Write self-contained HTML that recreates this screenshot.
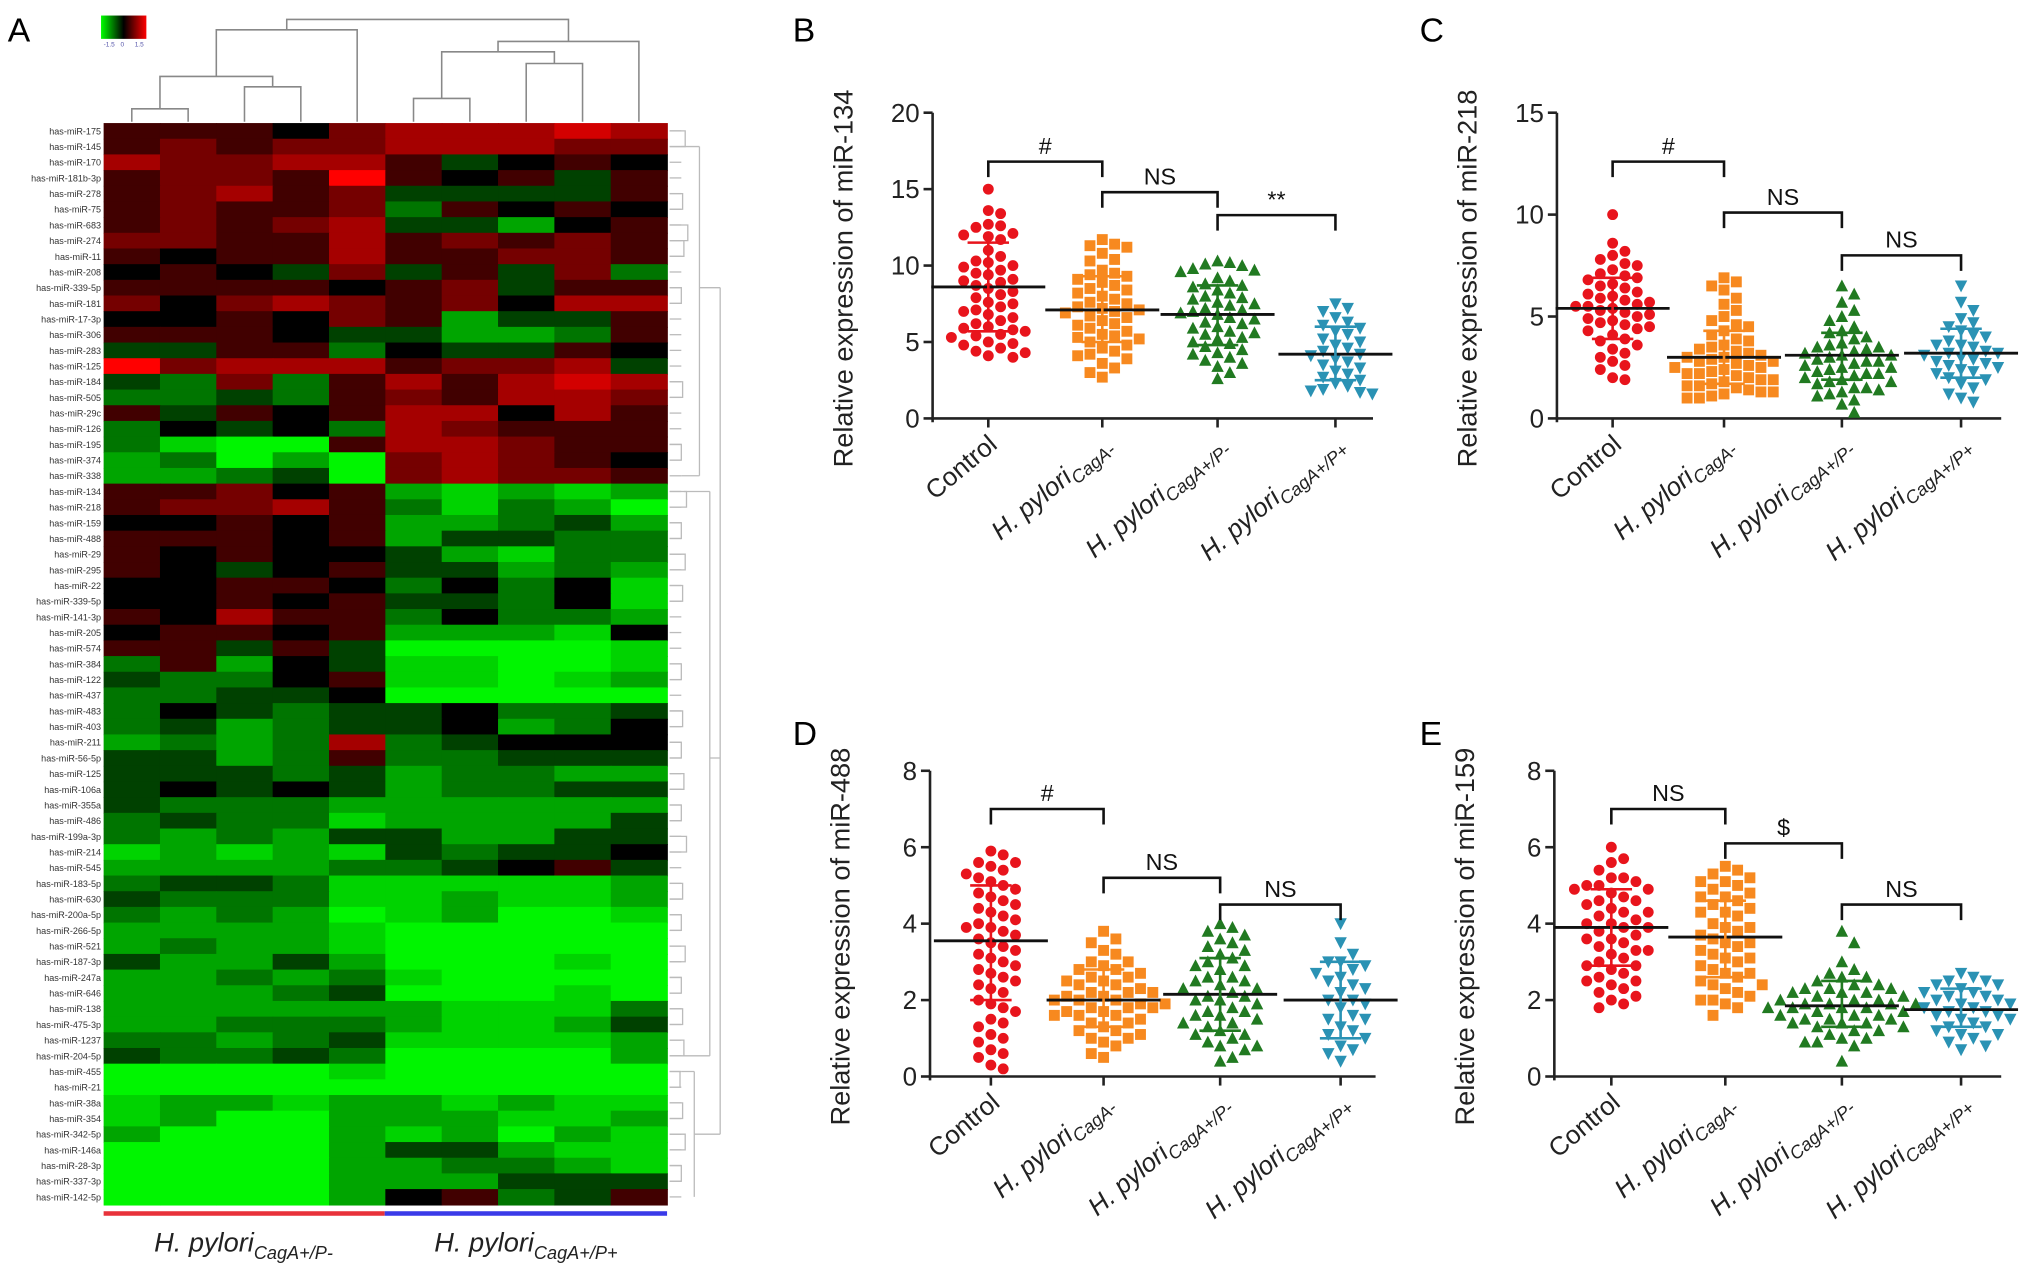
<!DOCTYPE html>
<html><head><meta charset="utf-8">
<style>
html,body{margin:0;padding:0;background:#fff}
svg{display:block}
text{font-family:"Liberation Sans",Arial,sans-serif}
</style></head>
<body>
<svg id="fig" width="2031" height="1276" viewBox="0 0 1568 985" preserveAspectRatio="none" xmlns="http://www.w3.org/2000/svg">
<rect x="0" y="0" width="1568" height="985" fill="#fff"/>
<defs>
<linearGradient id="cbar" x1="0" x2="1" y1="0" y2="0">
<stop offset="0" stop-color="#00ff00"/><stop offset="0.5" stop-color="#000"/><stop offset="1" stop-color="#ff0000"/>
</linearGradient>
</defs>
<g id="panelA">
<text x="6" y="32" font-size="26">A</text>
<rect x="78" y="12" width="35" height="18" fill="url(#cbar)"/>
<text x="80" y="36" font-size="5" fill="#55a">-1.5</text>
<text x="93" y="36" font-size="5" fill="#55a">0</text>
<text x="104" y="36" font-size="5" fill="#55a">1.5</text>
<g id="hm"></g>
<g id="hmlabels"></g>
<g id="coldendro" stroke="#888" stroke-width="1.2" fill="none"></g>
<g id="rowdendro" stroke="#bbb" stroke-width="1" fill="none"></g>
<rect x="80" y="935" width="217" height="3.5" fill="#e8323a"/>
<rect x="297" y="935" width="218" height="3.5" fill="#3a3ae8"/>
<text x="188" y="966" font-size="21" text-anchor="middle" font-style="italic" fill="#222">H. pylori<tspan font-size="14" dy="6">CagA+/P-</tspan></text>
<text x="406" y="966" font-size="21" text-anchor="middle" font-style="italic" fill="#222">H. pylori<tspan font-size="14" dy="6">CagA+/P+</tspan></text>
</g>
<g id="charts"></g>
</svg>
<script>
// ---------------- Heatmap data ----------------
const rowNames = ["has-miR-175","has-miR-145","has-miR-170","has-miR-181b-3p","has-miR-278","has-miR-75","has-miR-683","has-miR-274","has-miR-11","has-miR-208","has-miR-339-5p","has-miR-181","has-miR-17-3p","has-miR-306","has-miR-283","has-miR-125","has-miR-184","has-miR-505","has-miR-29c","has-miR-126","has-miR-195","has-miR-374","has-miR-338","has-miR-134","has-miR-218","has-miR-159","has-miR-488","has-miR-29","has-miR-295","has-miR-22","has-miR-339-5p","has-miR-141-3p","has-miR-205","has-miR-574","has-miR-384","has-miR-122","has-miR-437","has-miR-483","has-miR-403","has-miR-211","has-miR-56-5p","has-miR-125","has-miR-106a","has-miR-355a","has-miR-486","has-miR-199a-3p","has-miR-214","has-miR-545","has-miR-183-5p","has-miR-630","has-miR-200a-5p","has-miR-266-5p","has-miR-521","has-miR-187-3p","has-miR-247a","has-miR-646","has-miR-138","has-miR-475-3p","has-miR-1237","has-miR-204-5p","has-miR-455","has-miR-21","has-miR-38a","has-miR-354","has-miR-342-5p","has-miR-146a","has-miR-28-3p","has-miR-337-3p","has-miR-142-5p"];
// codes: 0 = 0, 1..5 = up (red), a..e = down (green)
const rowCodes = ["1110233343","1212233322","322331a010","12215101a1","12312aaaa1","12112b1010","12123aac01","2211312121","1011311221","010a2a1a2b","1111012a11","2023212033","001021caa1","1110aaccb1","aa11b0aa10","523331223a","ab2b131343","bbab121332","1a10133031","b0a0b32111","bdee133211","cbece23210","ccbae23221","11201cdcdc","12231bdbce","00101ccbac","11101caabb","10100acdbb","10a01aacbc","00110b0b0d","00101aab0d","10311b0bbc","01101cccd0","11a1aeeeed","b1c0addeed","abb01ddedc","bbaa0eeeee","b0abaa0bba","bacbaa0cb0","cbcb3ba000","aacb1bbaaa","aaabacbbcc","a0a0acbbaa","abbbcccccc","babbdcccca","bcbcaaccaa","dcdcdabaa0","ccccbba01a","baabdddddc","abbbddcddc","bcbcedceed","ccccdeeeee","cbccdeeeee","accaceeede","ccbcbdeeee","cccbaeeede","ccccccdddb","ccbbbcddca","bbcbaddddc","abbabeeeec","eeeedeeeee","eeeeeeeeee","dccdccdcdd","dceeccc ddc".replace(" ",""),"ceeecdcecd","eeeecaacdd","eeeeccbbcd","eeeecccaa","eeeec01ba1"].map(s=>s.padEnd(10,s[s.length-1]));
const codeValues = {"0":0,"1":0.3,"2":0.6,"3":0.9,"4":1.2,"5":1.5,"a":-0.3,"b":-0.6,"c":-0.9,"d":-1.2,"e":-1.5};

const NS="http://www.w3.org/2000/svg";
function el(tag, attrs, parent){const e=document.createElementNS(NS,tag);for(const k in attrs)e.setAttribute(k,attrs[k]);if(parent)parent.appendChild(e);return e;}
function colorFor(v){const t=Math.min(1,Math.abs(v)/1.5);const c=Math.round(255*Math.pow(t,0.85));return v>=0?`rgb(${c},0,0)`:`rgb(0,${Math.min(245,c)},0)`;}

const HX0=80,HX1=515,HY0=95,HY1=930;
const nR=rowNames.length, nC=10;
const cw=(HX1-HX0)/nC, rh=(HY1-HY0)/nR;
const hm=document.getElementById('hm'), hl=document.getElementById('hmlabels');
rowCodes.forEach((row,r)=>{
  for(let c=0;c<nC;c++){
    const v=codeValues[row[c]]??0;
    const cell=el('rect',{x:HX0+c*cw,y:HY0+r*rh,width:cw+0.6,height:rh+0.6,fill:colorFor(v)},hm);
    
    
  }
  const t=el('text',{x:HX0-2,y:HY0+r*rh+rh*0.72,'font-size':7,'text-anchor':'end',fill:'#333'},hl);
  t.textContent=rowNames[r];
  
  
});
// column dendrogram
const cx=i=>HX0+cw*(i+0.5);
const cd=document.getElementById('coldendro');
function br(x1,x2,y,y1,y2){el('path',{d:`M${x1} ${y1} V${y} H${x2} V${y2}`},cd);}
br(cx(0),cx(1),84,94,94); br(cx(2),cx(3),67,94,94);
const m01=(cx(0)+cx(1))/2,m23=(cx(2)+cx(3))/2; br(m01,m23,59,84,67);
const mL=(m01+m23)/2; br(mL,cx(4),23,59,94);
br(cx(5),cx(6),76,94,94); br(cx(7),cx(8),49,94,94);
const m56=(cx(5)+cx(6))/2,m78=(cx(7)+cx(8))/2; br(m56,m78,40,76,49);
const mR1=(m56+m78)/2; br(mR1,cx(9),32,40,94);
const mA=(mL+cx(4))/2,mB=(mR1+cx(9))/2; br(mA,mB,15,23,32);
// row dendrogram (approximate structure)
const rd=document.getElementById('rowdendro');
const ry=i=>HY0+rh*(i+0.5);
const pairs=[[0,1,8],[4,5,6],[6,7,10],[7,8,7],[10,11,5],[16,17,6],[20,21,5],[23,24,9],[25,26,5],[27,28,8],[29,30,6],[34,35,5],[37,38,6],[39,40,5],[41,42,7],[43,44,5],[45,46,9],[48,49,6],[50,51,5],[52,53,8],[54,55,5],[56,57,6],[58,59,7],[60,61,4],[62,63,6],[64,65,8],[66,67,5]];
rowNames.forEach((n,i)=>{el('path',{d:`M517 ${ry(i)} H526`},rd);});
pairs.forEach(p=>{const x=517+p[2]+4;el('path',{d:`M517 ${ry(p[0])} H${x} V${ry(p[1])} H517`},rd);});
el('path',{d:`M540 ${ry(1)} V${ry(22)} M548 ${ry(23)} V${ry(59)} M536 ${ry(60)} V${ry(68)} M556 ${ry(10)} V${ry(64)} M526 ${ry(1)} H540 M526 ${ry(22)} H540 M528 ${ry(23)} H548 M528 ${ry(59)} H548 M526 ${ry(60)} H536 M540 ${ry(10)} H556 M548 ${ry(40)} H556 M536 ${ry(64)} H556`},rd);

// ---------------- Scatter data ----------------
const groups = ["Control","CagA-","CagA+/P-","CagA+/P+"];
// Panel B: miR-134
const b_control=[15.0,13.6,13.4,12.7,12.6,12.5,12.1,12.0,11.9,11.7,11.0,10.6,10.3,10.2,10.0,9.9,9.7,9.5,9.4,9.1,9.0,8.9,8.7,8.5,8.3,8.1,7.9,7.6,7.5,7.3,7.1,7.0,6.8,6.6,6.4,6.2,6.0,5.9,5.8,5.7,5.5,5.4,5.3,5.0,4.9,4.8,4.6,4.4,4.3,4.1,4.0];
const b_cagAneg=[11.7,11.4,11.3,11.2,10.8,10.4,10.3,9.7,9.5,9.4,9.3,9.1,8.9,8.7,8.5,8.4,8.2,8.0,7.8,7.6,7.5,7.3,7.2,7.1,7.0,6.9,6.7,6.6,6.4,6.2,6.1,5.9,5.7,5.5,5.4,5.3,5.2,5.0,4.8,4.6,4.4,4.2,4.1,3.9,3.6,3.3,3.0,2.7];
const b_pneg=[10.3,10.2,10.1,10.0,9.8,9.7,9.6,9.2,9.0,8.8,8.7,8.6,8.4,8.2,8.0,7.9,7.8,7.6,7.5,7.4,7.2,7.1,7.0,6.9,6.8,6.6,6.5,6.3,6.2,6.0,5.9,5.7,5.6,5.5,5.3,5.2,5.0,4.9,4.7,4.5,4.3,4.2,4.0,3.8,3.6,3.4,3.0,2.6];
const b_ppos=[7.5,7.2,7.0,6.6,6.3,6.1,5.9,5.7,5.5,5.2,5.0,4.8,4.6,4.4,4.2,4.1,3.9,3.7,3.5,3.3,3.1,2.9,2.7,2.5,2.3,2.1,1.9,1.8,1.7,1.6];
// Panel C: miR-218
const c_control=[10.0,8.6,8.2,8.0,7.8,7.6,7.5,7.3,7.1,6.9,6.8,6.6,6.4,6.2,6.1,6.0,5.9,5.8,5.6,5.5,5.4,5.3,5.2,5.0,4.9,4.8,4.7,4.5,4.4,4.3,4.1,3.9,3.8,3.6,3.4,3.2,3.0,2.8,2.6,2.4,2.0,1.9,5.7,5.5,5.1,4.6,6.5,7.0];
const c_cagAneg=[6.9,6.7,6.5,6.3,5.9,5.6,5.3,5.0,4.8,4.6,4.5,4.3,4.1,3.9,3.8,3.6,3.5,3.3,3.2,3.1,3.0,2.9,2.8,2.7,2.6,2.5,2.4,2.3,2.2,2.1,2.0,1.9,1.8,1.7,1.6,1.5,1.4,1.3,1.2,1.1,1.0,1.0,3.4,3.0,2.8,2.5,2.2,1.9,1.6,1.3];
const c_pneg=[6.5,6.1,5.7,5.3,5.0,4.8,4.5,4.3,4.2,4.0,3.9,3.7,3.6,3.5,3.4,3.3,3.2,3.1,3.0,2.9,2.8,2.7,2.6,2.5,2.4,2.3,2.2,2.1,2.0,1.9,1.8,1.7,1.5,1.4,1.3,1.2,1.1,0.9,0.7,0.3,3.5,3.1,2.8,2.5,2.2,1.8,1.5];
const c_ppos=[6.5,5.7,5.3,4.9,4.7,4.5,4.3,4.1,4.0,3.8,3.6,3.5,3.3,3.2,3.1,3.0,2.8,2.7,2.6,2.4,2.3,2.2,2.0,1.9,1.7,1.5,1.2,1.0,0.8,3.6,3.2,2.9,2.5];
// Panel D: miR-488
const d_control=[5.9,5.8,5.6,5.5,5.4,5.3,5.1,5.0,4.9,4.7,4.6,4.4,4.3,4.1,4.0,3.9,3.8,3.7,3.5,3.4,3.3,3.1,3.0,2.8,2.7,2.5,2.4,2.2,2.0,1.9,1.7,1.5,1.3,1.1,0.9,0.7,0.5,0.3,0.2,5.6,5.2,4.8,4.5,4.2,3.9,3.6,3.2,2.9,2.6,2.3,1.8,1.4,1.0,0.6];
const d_cagAneg=[3.8,3.6,3.5,3.3,3.2,3.0,2.9,2.8,2.7,2.6,2.5,2.4,2.3,2.2,2.2,2.1,2.0,2.0,1.9,1.9,1.8,1.8,1.7,1.6,1.6,1.5,1.4,1.3,1.2,1.1,1.0,0.9,0.8,0.6,0.5,3.0,2.8,2.6,2.4,2.2,2.0,1.8,1.6,1.4,1.2,1.0,2.5,2.1,1.7];
const d_pneg=[4.0,3.9,3.7,3.6,3.4,3.3,3.1,3.0,2.9,2.8,2.6,2.5,2.4,2.3,2.2,2.1,2.0,1.9,1.8,1.7,1.6,1.5,1.4,1.3,1.2,1.1,1.0,0.9,0.8,0.7,0.5,0.4,3.8,3.5,3.2,2.9,2.6,2.3,2.0,1.7,1.4,1.1,0.8,2.5,2.1,1.6];
const d_ppos=[4.0,3.5,3.2,3.0,2.9,2.7,2.6,2.5,2.3,2.2,2.0,1.9,1.8,1.6,1.5,1.3,1.2,1.0,0.8,0.6,0.4,3.0,2.4,2.0,1.5,1.1,0.7,2.8];
// Panel E: miR-159
const e_control=[6.0,5.7,5.6,5.4,5.2,5.1,5.0,5.0,4.9,4.8,4.7,4.6,4.5,4.4,4.3,4.2,4.1,4.0,3.9,3.9,3.8,3.7,3.6,3.5,3.4,3.3,3.2,3.1,3.0,2.9,2.8,2.7,2.6,2.5,2.4,2.3,2.1,2.0,1.9,1.8,5.2,4.9,4.6,4.3,4.0,3.6,3.3,2.9,2.5,2.2];
const e_cagAneg=[5.5,5.4,5.3,5.2,5.1,5.0,4.9,4.8,4.7,4.6,4.5,4.4,4.3,4.2,4.0,3.9,3.8,3.7,3.6,3.5,3.4,3.3,3.2,3.1,3.0,2.9,2.8,2.7,2.6,2.5,2.4,2.3,2.2,2.1,2.0,1.9,1.8,1.6,5.1,4.7,4.3,3.9,3.5,3.1,2.7,2.4,2.0];
const e_pneg=[3.8,3.5,3.0,2.8,2.7,2.6,2.5,2.4,2.3,2.3,2.2,2.2,2.1,2.1,2.0,2.0,1.9,1.9,1.9,1.8,1.8,1.8,1.7,1.7,1.6,1.6,1.5,1.5,1.4,1.4,1.3,1.3,1.2,1.1,1.0,0.9,0.8,0.4,2.6,2.4,2.2,2.0,1.8,1.6,1.4,1.2,1.0,0.9,2.3,1.9,1.5];
const e_ppos=[2.7,2.6,2.5,2.5,2.4,2.3,2.2,2.2,2.1,2.0,2.0,1.9,1.8,1.8,1.7,1.7,1.6,1.5,1.5,1.4,1.3,1.2,1.1,1.0,0.9,0.8,0.7,2.4,2.1,1.9,1.6,1.3,1.1];
// means and error bar (lower, upper)
const b_mean=[8.6,7.1,6.8,4.2], b_lo=[5.7,5.0,4.8,2.5], b_hi=[11.5,9.3,8.7,6.0];
const c_mean=[5.4,3.0,3.1,3.2], c_lo=[3.9,1.7,1.9,2.0], c_hi=[6.9,4.3,4.2,4.4];
const d_mean=[3.55,2.0,2.15,2.0], d_lo=[2.0,1.3,1.2,1.0], d_hi=[5.0,2.8,3.1,3.0];
const e_mean=[3.9,3.65,1.85,1.75], e_lo=[2.9,2.6,1.3,1.3], e_hi=[4.9,4.6,2.5,2.3];
const b_ticks=[0,5,10,15,20], c_ticks=[0,5,10,15], d_ticks=[0,2,4,6,8], e_ticks=[0,2,4,6,8];
const b_sig=["#","NS","**"], c_sig=["#","NS","NS"], d_sig=["#","NS","NS"], e_sig=["NS","$","NS"];
const b_sigY=[16.8,14.8,13.3], c_sigY=[12.6,10.1,8.0], d_sigY=[7.0,5.2,4.5], e_sigY=[7.0,6.1,4.5];

const colors=["#e8141c","#f7891f","#217a21","#2a92b4"];
const panels=[
 {letter:"B",title:"Relative expression of miR-134",ax:720,y0:323,ymaxPx:87,ymax:20,ticks:b_ticks,cats:[763,851,940,1031],right:1060,data:[b_control,b_cagAneg,b_pneg,b_ppos],mean:b_mean,lo:b_lo,hi:b_hi,sig:b_sig,sigY:b_sigY,lx:612,ly:32},
 {letter:"C",title:"Relative expression of miR-218",ax:1202,y0:323,ymaxPx:87,ymax:15,ticks:c_ticks,cats:[1245,1331,1422,1514],right:1545,data:[c_control,c_cagAneg,c_pneg,c_ppos],mean:c_mean,lo:c_lo,hi:c_hi,sig:c_sig,sigY:c_sigY,lx:1096,ly:32},
 {letter:"D",title:"Relative expression of miR-488",ax:718,y0:831,ymaxPx:595,ymax:8,ticks:d_ticks,cats:[765,852,942,1035],right:1062,data:[d_control,d_cagAneg,d_pneg,d_ppos],mean:d_mean,lo:d_lo,hi:d_hi,sig:d_sig,sigY:d_sigY,lx:612,ly:575},
 {letter:"E",title:"Relative expression of miR-159",ax:1200,y0:831,ymaxPx:595,ymax:8,ticks:e_ticks,cats:[1244,1332,1422,1514],right:1545,data:[e_control,e_cagAneg,e_pneg,e_ppos],mean:e_mean,lo:e_lo,hi:e_hi,sig:e_sig,sigY:e_sigY,lx:1096,ly:575}
];
const charts=document.getElementById('charts');
function marker(g,shape,x,y,col){
  const s=4.2;let m;
  if(shape===0) m=el('circle',{cx:x,cy:y,r:s,fill:col},g);
  else if(shape===1) m=el('rect',{x:x-s,y:y-s,width:2*s,height:2*s,fill:col},g);
  else if(shape===2) m=el('path',{d:`M${x} ${y-s-0.8} L${x+s+0.6} ${y+s} L${x-s-0.6} ${y+s}Z`,fill:col},g);
  else m=el('path',{d:`M${x} ${y+s+0.8} L${x+s+0.6} ${y-s} L${x-s-0.6} ${y-s}Z`,fill:col},g);
  return m;
}
panels.forEach((p,pi)=>{
  const g=el('g',{},charts);
  
  
  const yS=v=>p.y0-(v/p.ymax)*(p.y0-p.ymaxPx);
  const L=el('text',{x:p.lx,y:p.ly,'font-size':26},g);L.textContent=p.letter;
  
  
  const ya=el('path',{d:`M${p.ax} ${p.ymaxPx} V${p.y0+3}`,stroke:'#222','stroke-width':2,fill:'none'},g);
  
  
  const xa=el('path',{d:`M${p.ax-1} ${p.y0} H${p.right}`,stroke:'#222','stroke-width':2,fill:'none'},g);
  
  
  p.ticks.forEach(t=>{
    const y=yS(t);
    el('path',{d:`M${p.ax-7} ${y} H${p.ax}`,stroke:'#222','stroke-width':2},g);
    const tt=el('text',{x:p.ax-10,y:y+7,'font-size':20,'text-anchor':'end',fill:'#222'},g);tt.textContent=t;
    
    
  });
  const yt=el('text',{x:0,y:0,'font-size':21,'text-anchor':'middle',fill:'#222',transform:`translate(${p.ax-62},${(p.y0+p.ymaxPx)/2 +10}) rotate(-90)`},g);
  yt.textContent=p.title;
  
  
  p.cats.forEach((cx,ci)=>{
    el('path',{d:`M${cx} ${p.y0} V${p.y0+7}`,stroke:'#222','stroke-width':2},g);
    const lab=el('text',{x:0,y:0,'font-size':20,'text-anchor':'end',fill:'#222',transform:`translate(${cx+8},${p.y0+22}) rotate(-40)`},g);
    if(ci===0){lab.textContent="Control";}
    else{
      const a=el('tspan',{'font-style':'italic'},lab);a.textContent="H. pylori";
      const b=el('tspan',{'font-style':'italic','font-size':14,dy:5},lab);b.textContent="Cag"+["","A-","A+/P-","A+/P+"][ci];
    }
    
    
    const placed=[];const vals=p.data[ci].slice().sort((a,b)=>b-a);
    const sg=el('g',{},g);
    
    
    vals.forEach(v=>{
      const y=yS(v);let off=0;
      for(let k=0;k<30;k++){
        const o=(k%2?1:-1)*Math.ceil(k/2)*9.5;
        if(placed.every(q=>Math.hypot(q[0]-(cx+o),q[1]-y)>=9.2)){off=o;break;}
      }
      placed.push([cx+off,y]);
      const m=marker(sg,ci,cx+off,y,colors[ci]);
      
      
    });
    const ml=el('path',{d:`M${cx-44} ${yS(p.mean[ci])} H${cx+44}`,stroke:'#111','stroke-width':2.2},g);
    
    
    const eb=el('path',{d:`M${cx} ${yS(p.lo[ci])} V${yS(p.hi[ci])} M${cx-16} ${yS(p.lo[ci])} H${cx+16} M${cx-16} ${yS(p.hi[ci])} H${cx+16}`,stroke:colors[ci],'stroke-width':2,fill:'none'},g);
    
    
  });
  p.sig.forEach((s,si)=>{
    const x1=p.cats[si],x2=p.cats[si+1],y=yS(p.sigY[si]);
    const bk=el('path',{d:`M${x1} ${y+12} V${y} H${x2} V${y+12}`,stroke:'#111','stroke-width':2,fill:'none'},g);
    
    
    const st=el('text',{x:(x1+x2)/2,y:y-6,'font-size':18,'text-anchor':'middle',fill:'#111'},g);st.textContent=s;
    
    
  });
});
</script>
</body></html>
